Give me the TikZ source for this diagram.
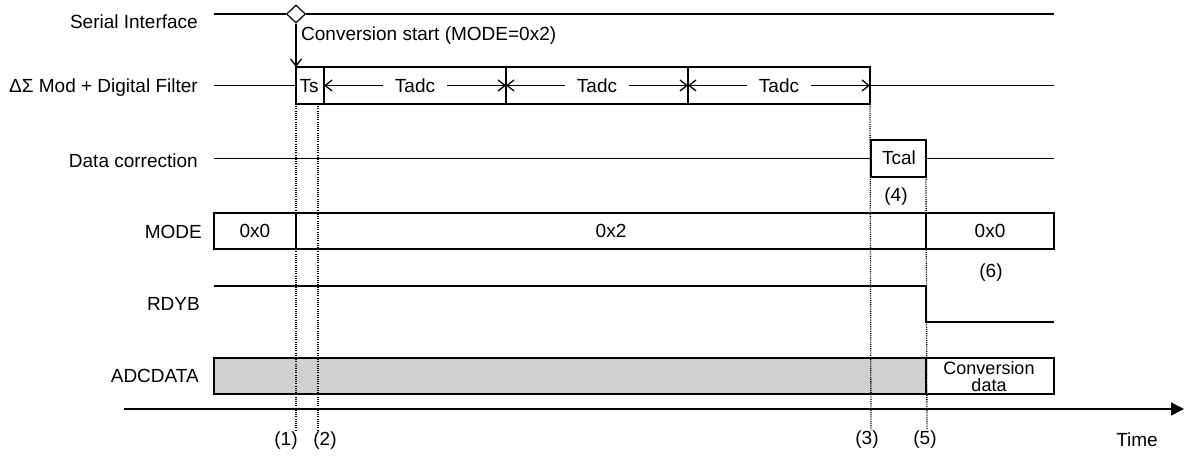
\documentclass[tikz,border=0pt]{standalone}
\usepackage{fontspec}
\setmainfont{Liberation Sans}
\usetikzlibrary{arrows.meta,shapes.geometric}
\definecolor{shade}{RGB}{208,208,208}
\newcommand\txtsize{\fontsize{19}{16}\selectfont}

\begin{document}
\begin{tikzpicture}[x=1pt,y=-1pt,
  sig/.style={line width=1.5pt},
  box/.style={draw, line width=1.5pt, inner sep=0pt, outer sep=0pt, anchor=north west},
  lbl/.style={font=\txtsize, inner sep=0pt},
  guide/.style={line width=1.3pt, dash pattern=on 1.1pt off 1.1pt},
  tick/.style={-{Straight Barb[length=7pt,width=11pt]}, line width=1.3pt},
  span/.style={font=\txtsize, inner xsep=12pt, inner ysep=0pt}
]
\path[use as bounding box] (0,0) rectangle (1184,457);

% signal names
\node[lbl, anchor=east] (lser) at (198,22)  {Serial Interface};
\node[lbl, anchor=east] (lmod) at (198,88)  {ΔΣ Mod + Digital Filter};
\node[lbl, anchor=east] (lcor) at (198,161) {Data correction};
\node[lbl, anchor=east] (lmd)  at (202,232) {MODE};
\node[lbl, anchor=east] (lrdy) at (200,304) {RDYB};
\node[lbl, anchor=east] (ladc) at (199,376) {ADCDATA};

% filter timing boxes
\node[box, minimum width=28pt,  minimum height=37pt] (ts) at (296,67) {};
\node[box, minimum width=182pt, minimum height=37pt] (a1) at (324,67) {};
\node[box, minimum width=182pt, minimum height=37pt] (a2) at (506,67) {};
\node[box, minimum width=182pt, minimum height=37pt] (a3) at (688,67) {};
\node[lbl] (tstxt) at (309,86) {Ts};

% serial interface with conversion start
\coordinate (s0) at (214,14);
\coordinate (s1) at (1054,14);
\node[diamond, draw, fill=white, line width=1.2pt, minimum width=19pt, minimum height=18pt, inner sep=0pt] (start) at (296,14) {};
\draw[sig] (s0) -- (start.west);
\draw[sig] (start.east) -- (s1);
\draw[tick] (start.south) -- (ts.north west);
\node[lbl, anchor=west] (cstart) at (301,36) {Conversion start (MODE=0x2)};

% filter line
\coordinate (f0) at (214,85.5);
\coordinate (f1) at (1054,85.5);
\draw[sig] (f0) -- (ts.west);
\draw[sig] (a3.east) -- (f1);
\foreach \b in {a1,a2,a3}{
  \node[span] (t\b) at (\b.center) {Tadc};
  \draw[tick] (t\b.west) -- (\b.west);
  \draw[tick] (t\b.east) -- (\b.east);
}

% data correction
\node[box, minimum width=55pt, minimum height=37pt] (tcal) at (871,140) {};
\node[lbl] (tcaltxt) at (899,158) {Tcal};
\coordinate (c0) at (214,158.5);
\coordinate (c1) at (1054,158.5);
\draw[sig] (c0) -- (tcal.west);
\draw[sig] (tcal.east) -- (c1);
\node[lbl] (n4) at (896,197) {(4)};

% MODE register
\node[box, minimum width=82pt,  minimum height=36pt] (m1) at (214,213) {};
\node[box, minimum width=630pt, minimum height=36pt] (m2) at (296,213) {};
\node[box, minimum width=128pt, minimum height=36pt] (m3) at (926,213) {};
\node[lbl] (m1t) at (m1.center) {0x0};
\node[lbl] (m2t) at (m2.center) {0x2};
\node[lbl] (m3t) at (m3.center) {0x0};
\node[lbl] (n6) at (991,273) {(6)};

% RDYB
\coordinate (r0) at (214,286);
\coordinate (r1) at (926,286);
\coordinate (r2) at (926,322);
\coordinate (r3) at (1054,322);
\draw[sig] (r0) -- (r1) -- (r2) -- (r3);

% ADCDATA
\node[box, fill=shade, minimum width=712pt, minimum height=36pt] (d1) at (214,358) {};
\node[box, minimum width=128pt, minimum height=36pt] (d2) at (926,358) {};
\node[lbl, align=center, font=\fontsize{18}{17}\selectfont] (d2t) at (989,377) {Conversion\\data};

% time axis
\coordinate (x0) at (124,409);
\coordinate (x1) at (1184,409);
\draw[line width=1.5pt, -{Triangle[length=13pt,width=13pt]}] (x0) -- (x1);
\node[lbl] (time) at (1137,440) {Time};

% event markers
\coordinate (g1) at (296,430);
\coordinate (g2a) at (318,104);
\coordinate (g2) at (318,430);
\coordinate (g3) at (871,430);
\coordinate (g5) at (927,430);
\draw[guide] (ts.south west) -- (g1);
\draw[guide] (g2a) -- (g2);
\draw[guide] (a3.south east) -- (g3);
\draw[guide] (tcal.south east) -- (g5);
\node[lbl] (n1) at (286,441) {(1)};
\node[lbl] (n2) at (325,441) {(2)};
\node[lbl] (n3) at (867,440) {(3)};
\node[lbl] (n5) at (925,440) {(5)};
\end{tikzpicture}
\end{document}
